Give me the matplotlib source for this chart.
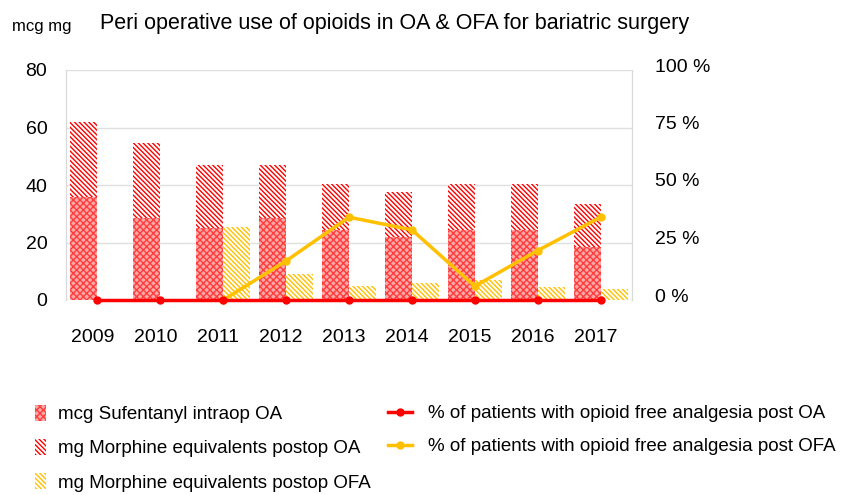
import numpy as np
import matplotlib.pyplot as plt
from matplotlib.transforms import ScaledTranslation

# chart values
years = ["2009", "2010", "2011", "2012", "2013", "2014", "2015", "2016", "2017"]
sufentanyl_oa = [36, 28.5, 25, 28.5, 24.5, 22, 24.5, 24.5, 18.5]
morphine_oa = [26, 26, 22, 18.5, 16, 15.5, 16, 16, 15]
morphine_ofa = [np.nan, np.nan, 25.5, 9, 4.8, 6, 6.8, 4.6, 4]
pct_free_oa = [0, 0, 0, 0, 0, 0, 0, 0, 0]
pct_free_ofa = [np.nan, np.nan, 0, 17, 36, 30.5, 6, 21.5, 36]

red = "#ff0000"
yellow = "#ffc000"
plt.rcParams['font.family'] = ['Liberation Sans', 'DejaVu Sans']
plt.rcParams['hatch.linewidth'] = 1.0

fig = plt.figure(figsize=(8.47, 4.95), dpi=100)
ax = fig.add_axes([66 / 847, 1 - 300 / 495, (632 - 66) / 847, 230 / 495])
ax2 = ax.twinx()

x = np.arange(len(years))
w = 0.43

b1 = ax.bar(x - w / 2, sufentanyl_oa, w, facecolor="#ffa8a8", edgecolor="#ff3c3c",
            hatch="xxxxx", linewidth=0, zorder=2)
b2 = ax.bar(x - w / 2, morphine_oa, w, bottom=sufentanyl_oa, facecolor="white",
            edgecolor=red, hatch="\\" * 7, linewidth=0, zorder=2)
b3 = ax.bar(x + w / 2, morphine_ofa, w, facecolor="white", edgecolor=yellow,
            hatch="\\" * 7, linewidth=0, zorder=2)

l1, = ax2.plot(x, pct_free_oa, color=red, lw=2.5, marker="o", ms=5, clip_on=False, zorder=4)
l2, = ax2.plot(x, pct_free_ofa, color=yellow, lw=2.5, marker="o", ms=5, clip_on=False, zorder=3)

ax.set_xlim(-0.5, len(years) - 0.5)
ax.set_ylim(0, 80)
ax.set_yticks([0, 20, 40, 60, 80])
ax2.set_ylim(0, 100)
ax2.set_yticks([0, 25, 50, 75, 100])
ax2.set_yticklabels([f"{v} %" for v in [0, 25, 50, 75, 100]])
ax.set_xticks(x)
ax.set_xticklabels(years)

ax.grid(axis="y", color="#e0e0e0", lw=1, zorder=0)
ax.set_axisbelow(True)
for a in (ax, ax2):
    for s in ["top", "bottom"]:
        a.spines[s].set_visible(False)
    a.spines["left"].set_color("#d9d9d9")
    a.spines["right"].set_color("#d9d9d9")
ax.tick_params(axis="x", length=0, pad=21, labelsize=14)
ax.tick_params(axis="y", length=0, pad=13.5, labelsize=14)
ax2.tick_params(axis="y", length=0, pad=16.5, labelsize=14)

# small nudges so labels sit where the reference has them
for lab in ax.get_xticklabels():
    lab.set_transform(lab.get_transform() + ScaledTranslation(-0.05, 0, fig.dpi_scale_trans))
for lab in ax2.get_yticklabels():
    lab.set_transform(lab.get_transform() + ScaledTranslation(0, 0.05, fig.dpi_scale_trans))

fig.text(100 / 847, 1 - 23 / 495, "Peri operative use of opioids in OA & OFA for bariatric surgery",
         fontsize=15.5, va="center", ha="left")
fig.text(12 / 847, 1 - 27 / 495, "mcg mg", fontsize=12, va="center", ha="left")

leg1 = fig.legend([b1, b2, b3],
                  ["mcg Sufentanyl intraop OA", "mg Morphine equivalents postop OA",
                   "mg Morphine equivalents postop OFA"],
                  frameon=False, fontsize=13.5, loc="upper left",
                  bbox_to_anchor=(35 / 847, 1 - 405 / 495), borderaxespad=0, borderpad=0,
                  handlelength=0.6, handleheight=0.9, handletextpad=0.64, labelspacing=0.85)
leg2 = fig.legend([l1, l2],
                  ["% of patients with opioid free analgesia post OA",
                   "% of patients with opioid free analgesia post OFA"],
                  frameon=False, fontsize=13.5, loc="upper left",
                  bbox_to_anchor=(388 / 847, 1 - 405 / 495), borderaxespad=0, borderpad=0,
                  handlelength=1.3, handletextpad=0.85, labelspacing=0.85)

fig.savefig("out.png", dpi=100)
